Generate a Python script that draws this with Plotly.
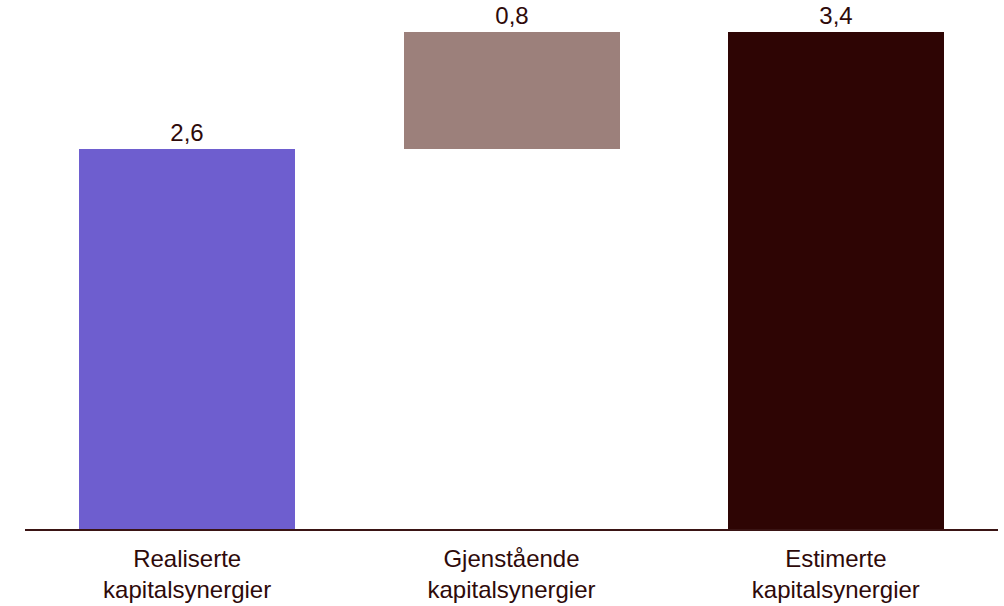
import plotly.graph_objects as go

# Capital synergies (NOK bn): realised + remaining = estimated total
categories = ["Realiserte<br>kapitalsynergier", "Gjenstående<br>kapitalsynergier", "Estimerte<br>kapitalsynergier"]
values = [2.6, 0.8, 3.4]
bases = [0, 2.6, 0]
colors = ["#6E5ECF", "#9C807B", "#2E0504"]

text_color = "#2E0A0A"

fig = go.Figure(
    go.Bar(
        x=categories,
        y=values,
        base=bases,
        marker=dict(color=colors, line=dict(width=0)),
        width=0.666,
        texttemplate="%{y:.1f}",
        textposition="outside",
        textfont=dict(size=24, color=text_color),
        cliponaxis=False,
    )
)

fig.update_layout(
    width=1004,
    height=606,
    margin=dict(l=25, r=6, t=0, b=77),
    plot_bgcolor="white",
    paper_bgcolor="white",
    separators=", ",
    font=dict(family="Liberation Sans, Arial, sans-serif", size=24, color=text_color),
    showlegend=False,
    bargap=0,
)
fig.update_xaxes(
    range=[-0.5, 2.5],
    showline=True,
    linecolor="#3A1414",
    linewidth=2,
    ticks="",
    ticklabelstandoff=7,
    automargin=False,
    showgrid=False,
    tickfont=dict(size=24, color=text_color),
)
fig.update_yaxes(
    range=[0, 3.619],
    visible=False,
    showgrid=False,
    zeroline=False,
    automargin=False,
)

fig.write_html("out.html")
